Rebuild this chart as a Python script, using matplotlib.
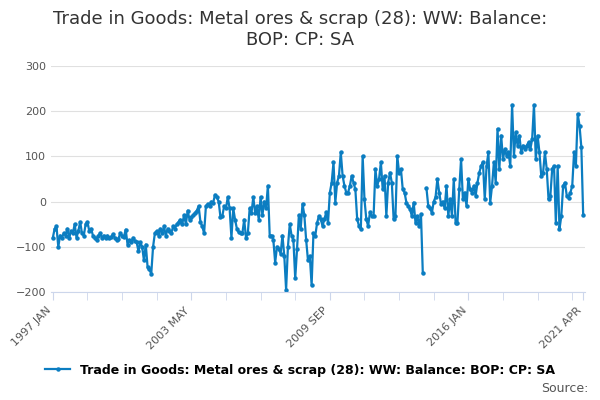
import numpy as np
import pandas as pd
import matplotlib.pyplot as plt

nan = np.nan
balance = [
    -80, -60, -55, -100, -75, -80, -70, -75, -60, -80, -65, -70,   # 1997
    -50, -80, -65, -45, -70, -75, -50, -45, -65, -60, -75, -80,    # 1998
    -85, -75, -70, -80, -75, -80, -75, -80, -78, -72, -80, -85,    # 1999
    -82, -70, -75, -78, -62, -95, -85, -90, -80, -88, -90, -110,   # 2000
    -90, -100, -130, -95, -145, -150, -160, -100, -70, -65, -75, -60,  # 2001
    -70, -55, -75, -60, -65, -70, -55, -60, -50, -45, -40, -50,    # 2002
    -30, -50, -20, -40, -35, -30, -25, -20, -10, -45, -55, -70,    # 2003
    -10, -5, -10, 0, -2, 15, 10, 0, -35, -32, -10, -15,            # 2004
    10, -15, -80, -15, -40, -60, -68, -70, -70, -40, -80, -70,     # 2005
    -15, -25, 10, -25, -10, -40, 10, -30, 0, -15, 35, -75,         # 2006
    -75, -85, -135, -100, -105, -115, -75, -120, -195, -100, -50, -75,  # 2007
    -85, -170, -105, -30, -60, -5, -30, -85, -130, -120, -185, -70,     # 2008
    -76, -47, -32, -39, -54, -39, -24, -47, 20, 42, 87, -2,        # 2009
    42, 57, 109, 57, 35, 20, 20, 35, 57, 42, 27, -39,              # 2010
    -54, -61, 101, 5, -39, -54, -24, -32, -32, 72, 35, 50,         # 2011
    87, 27, 57, -32, 42, 64, 42, -39, -32, 101, 64, 72,            # 2012
    27, 20, -2, -10, -17, -32, -2, -47, -32, -54, -28, -158,       # 2013
    nan, 30, -10, -15, -25, 0, 10, 50, 20, -5, 0, -15,             # 2014
    35, -32, 5, -32, 50, -47, -47, 27, 94, 5, 20, -10,             # 2015
    50, 27, 20, 35, 13, 42, 64, 79, 87, 5, 79, 109,                # 2016
    -2, 35, 87, 42, 161, 72, 146, 94, 116, 101, 109, 79,           # 2017
    214, 101, 153, 124, 146, 109, 124, 116, 124, 131, 116, 138,    # 2018
    214, 94, 146, 109, 57, 64, 109, 72, 5, 13, 72, 79,             # 2019
    -47, 79, -61, -32, 35, 42, 13, 9, 20, 35, 109, 79,             # 2020
    194, 168, 120, -30,                                            # 2021
]
months = pd.period_range("1997-01", periods=len(balance), freq="M")
tick_pos = [0, 76, 152, 228, len(balance) - 1]
tick_labels = [months[i].strftime("%Y %b").upper() for i in tick_pos]
series_name = "Trade in Goods: Metal ores & scrap (28): WW: Balance: BOP: CP: SA"

fig = plt.figure(figsize=(6, 4), dpi=100)
ax = fig.add_axes([0.085, 0.27, 0.89, 0.565])
x = np.arange(len(balance))
ax.plot(x, balance, color="#0b7dc1", lw=1.6, marker="o", ms=2.2, label=series_name)

ax.set_ylim(-200, 300)
ax.set_yticks([-200, -100, 0, 100, 200, 300])
ax.set_xlim(-1, len(balance))
ax.set_xticks(tick_pos)
ax.set_xticks(np.arange(0, len(balance), 19), minor=True)
ax.set_xticklabels(tick_labels, rotation=45, ha="right", fontsize=8, color="#555555")
ax.tick_params(axis="y", length=0, labelsize=8, labelcolor="#555555")
ax.tick_params(axis="x", which="both", length=6, color="#ccd6eb")
ax.grid(axis="y", color="#e0e0e0", lw=0.8)
for s in ["top", "right", "left"]:
    ax.spines[s].set_visible(False)
ax.spines["bottom"].set_color("#ccd6eb")

fig.suptitle("Trade in Goods: Metal ores & scrap (28): WW: Balance:\nBOP: CP: SA",
             fontsize=13, color="#333333", y=0.975)
fig.legend(loc="lower center", bbox_to_anchor=(0.5, 0.03), frameon=False,
           prop={"weight": "bold", "size": 9})
fig.text(0.98, 0.02, "Source:", ha="right", fontsize=9, color="#555555")
fig.savefig("out.png")
